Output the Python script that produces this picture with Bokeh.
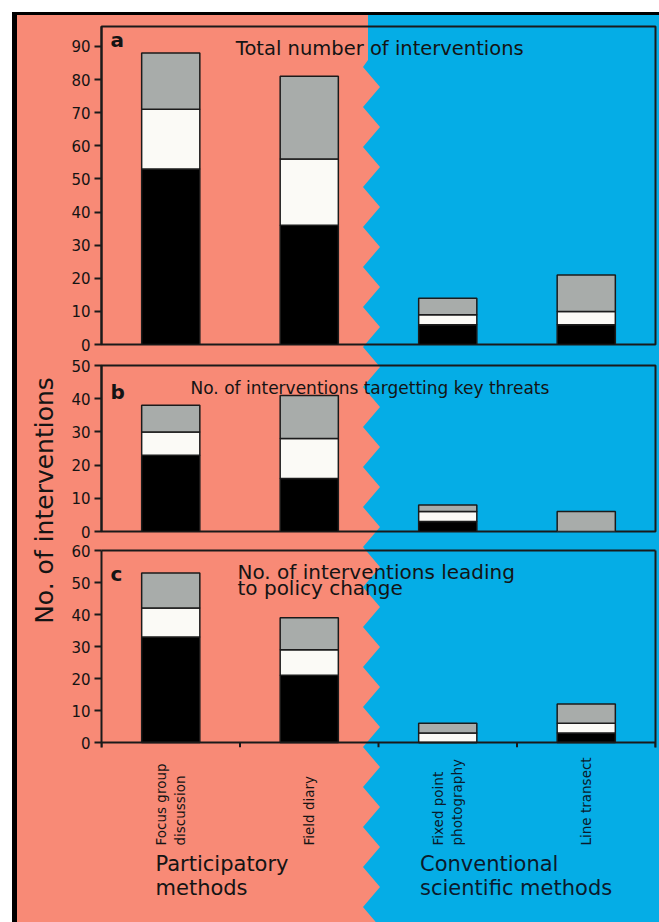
import numpy as np
from urllib.parse import quote
from bokeh.plotting import figure
from bokeh.models import Range1d, FixedTicker, ColumnDataSource, LinearAxis
from bokeh.layouts import row, column
from bokeh.core.properties import value
from bokeh.embed import file_html
from bokeh.resources import INLINE

# ---------------- data ----------------
methods = ["Focus group discussion", "Field diary", "Fixed point photography", "Line transect"]
method_labels = ["Focus group\ndiscussion", "Field diary", "Fixed point\nphotography", "Line transect"]
group_labels = ["Participatory\nmethods", "Conventional\nscientific methods"]
segments = ["black", "white", "grey"]

a_black = [53, 36, 6, 6]
a_white = [18, 20, 3, 4]
a_grey = [17, 25, 5, 11]

b_black = [23, 16, 3, 0]
b_white = [7, 12, 3, 0]
b_grey = [8, 13, 2, 6]

c_black = [33, 21, 0, 3]
c_white = [9, 8, 3, 3]
c_grey = [11, 10, 3, 6]

a_ticks = [0, 10, 20, 30, 40, 50, 60, 70, 80, 90]
b_ticks = [0, 10, 20, 30, 40, 50]
c_ticks = [0, 10, 20, 30, 40, 50, 60]

title_a = "Total number of interventions"
title_b = "No. of interventions targetting key threats"
title_c = ["No. of interventions leading", "to policy change"]
y_title = "No. of interventions"

# ---------------- style ----------------
SALMON = "#F88A76"
BLUE = "#05ADE6"
SEG_COLORS = ["#000000", "#FBFAF6", "#A8ACAA"]
FONT = "DejaVu Sans"
INK = "#141414"
NAVY = "#0b1a2c"
LINE = "#1a1a1a"

W, H = 659, 922


def background_css():
    # decorative zig-zag split between the two method groups
    pts = [(W, 15), (368, 15), (368, 60)]
    y = 67
    k = 0
    while y < H + 20:
        pts.append((363 if k % 2 == 0 else 380, y))
        y += 20
        k += 1
    pts += [(W, H + 20)]
    poly = " ".join(f"{x},{yy}" for x, yy in pts)
    svg = (
        f'<svg xmlns="http://www.w3.org/2000/svg" width="{W}" height="{H}">'
        f'<rect x="0" y="0" width="{W}" height="{H}" fill="white"/>'
        f'<rect x="12" y="12" width="{W}" height="{H}" fill="black"/>'
        f'<rect x="17" y="15" width="{W}" height="{H}" fill="{SALMON}"/>'
        f'<polygon points="{poly}" fill="{BLUE}"/>'
        "</svg>"
    )
    return {
        "background-image": f'url("data:image/svg+xml,{quote(svg, safe="")}")',
        "background-repeat": "no-repeat",
        "background-size": f"{W}px {H}px",
    }


def style_yaxis(ya, ticks):
    ya.ticker = FixedTicker(ticks=ticks)
    ya.axis_line_width = 2
    ya.axis_line_color = LINE
    ya.major_tick_out = 7
    ya.major_tick_in = 0
    ya.major_tick_line_width = 2
    ya.major_tick_line_color = LINE
    ya.minor_tick_line_color = None
    ya.major_label_standoff = 4
    ya.major_label_text_font = FONT
    ya.major_label_text_font_size = "15px"
    ya.major_label_text_color = INK


def make_panel(height, top, bottom, ymin, ymax, ticks, blk, wht, gry):
    p = figure(
        width=601, height=height,
        x_range=Range1d(0, len(methods)), y_range=Range1d(ymin, ymax),
        output_backend="svg", toolbar_location=None,
        x_axis_location=None,
        min_border_left=43, min_border_right=4,
        min_border_top=top, min_border_bottom=bottom,
    )
    p.background_fill_alpha = 0
    p.border_fill_alpha = 0
    p.outline_line_color = LINE
    p.outline_line_width = 2
    p.grid.grid_line_color = None

    src = ColumnDataSource(dict(
        x=np.arange(len(methods)) + 0.5, black=blk, white=wht, grey=gry))
    p.vbar_stack(segments, x="x", width=0.42, source=src,
                 fill_color=SEG_COLORS, line_color="#1b1b1b", line_width=1.5)
    style_yaxis(p.yaxis[0], ticks)
    return p


def bare_axis():
    ax = LinearAxis(ticker=FixedTicker(ticks=[]), axis_line_width=2, axis_line_color=LINE,
                    major_tick_out=0, major_tick_in=0, minor_tick_out=0, minor_tick_in=0,
                    major_label_standoff=0, axis_label_standoff=0)
    return ax


def letter(p, x, y, s):
    p.text(x=[x], y=[y], text=[s], text_font=value(FONT), text_font_style="bold",
           text_font_size="20px", text_color=INK, text_align="left",
           text_baseline="alphabetic")


def title(p, x, ys, lines, size):
    p.text(x=[x] * len(lines), y=ys, text=lines, text_font=value(FONT),
           text_font_size=size, text_color=INK, text_align="left",
           text_baseline="alphabetic")


# panel a
pa = make_panel(354, 26, 10, 0, 96, a_ticks, a_black, a_white, a_grey)
letter(pa, 0.065, 92.0, "a")
title(pa, 0.97, [89.3], [title_a], "19.5px")

# panel b
pb = make_panel(186, 11, 9, 0, 50, b_ticks, b_black, b_white, b_grey)
letter(pb, 0.065, 41.9, "b")
title(pb, 0.643, [43.1], [title_b], "17px")

# panel c: frame extended 5px below zero so that the x ticks at the
# category boundaries can hang under the axis line
PX_PER_UNIT_C = 192 / 60
tick_len = 5 / PX_PER_UNIT_C
PC_H = 215
pc = make_panel(PC_H, 10, 8, -tick_len, 60, c_ticks, c_black, c_white, c_grey)
pc.outline_line_color = None
pc.add_layout(bare_axis(), "above")
pc.add_layout(bare_axis(), "right")
bounds = np.arange(len(methods) + 1)
pc.segment(x0=[0], y0=[0], x1=[len(methods)], y1=[0], line_color=LINE, line_width=2)
pc.segment(x0=bounds, y0=[0] * len(bounds), x1=bounds, y1=[-tick_len] * len(bounds),
           line_color=LINE, line_width=2)
letter(pc, 0.065, 52.8, "c")
title(pc, 0.982, [53.4, 48.3], title_c, "20px")

# category labels below
LAB_H = H - 354 - 186 - PC_H
lab = figure(width=601, height=LAB_H, x_range=Range1d(0, len(methods)), y_range=Range1d(0, LAB_H),
             output_backend="svg", toolbar_location=None,
             x_axis_location=None, y_axis_location=None,
             min_border_left=43, min_border_right=4, min_border_top=0, min_border_bottom=0)
lab.background_fill_alpha = 0
lab.border_fill_alpha = 0
lab.outline_line_color = None
lab.grid.grid_line_color = None
lab.text(x=np.arange(len(methods)) + 0.5, y=[77] * len(methods), text=method_labels,
         angle=np.pi / 2, text_align="left", text_baseline="middle",
         text_font=value(FONT), text_font_size="13.5px", text_line_height=1.2,
         text_color=[INK, INK, NAVY, NAVY])
lab.text(x=[0.39, 2.30], y=[71, 71], text=group_labels, text_align="left", text_baseline="top",
         text_font=value(FONT), text_font_size="21px", text_line_height=1.0,
         text_color=[INK, NAVY])

# shared y title
yl = figure(width=58, height=H, x_range=Range1d(0, 58), y_range=Range1d(0, H),
            output_backend="svg", toolbar_location=None,
            x_axis_location=None, y_axis_location=None, min_border=0)
yl.background_fill_alpha = 0
yl.border_fill_alpha = 0
yl.outline_line_color = None
yl.grid.grid_line_color = None
yl.text(x=[44], y=[H - 500], text=[y_title], angle=np.pi / 2, text_align="center",
        text_baseline="middle", text_font=value(FONT), text_font_size="25px", text_color=INK)

layout = row(yl, column(pa, pb, pc, lab))
layout.styles = background_css()

open("out.html", "w").write(file_html(layout, INLINE))
